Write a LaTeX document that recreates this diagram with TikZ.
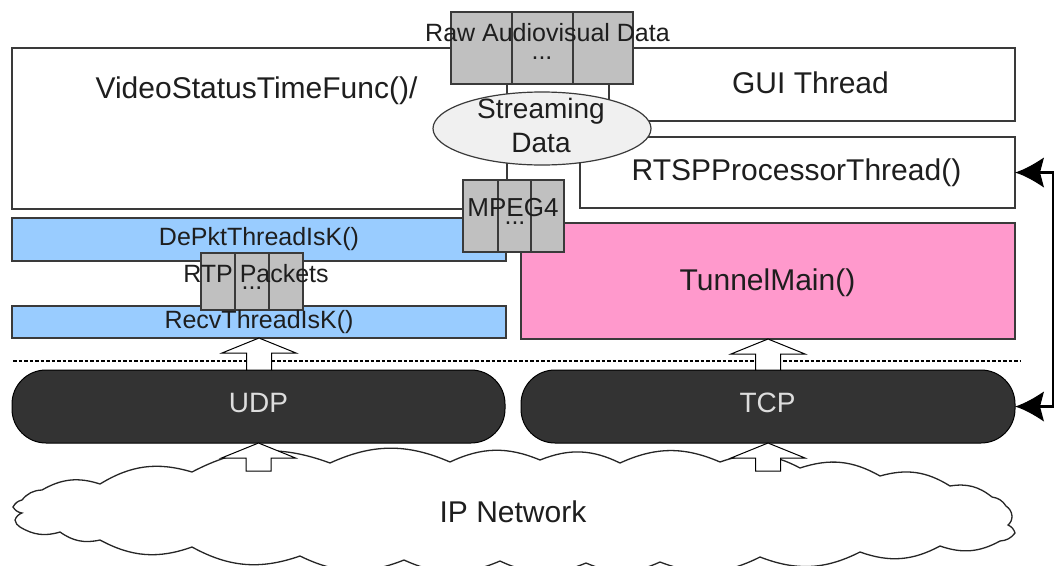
\documentclass[tikz,border=0pt]{standalone}
\usepackage{fontspec}
\setmainfont{Liberation Sans}
\usetikzlibrary{fit,shapes.geometric,arrows.meta}

\definecolor{cellgray}{HTML}{C0C0C0}
\definecolor{barblue}{HTML}{99CCFF}
\definecolor{tunpink}{HTML}{FF99CC}
\definecolor{pilldark}{HTML}{333333}
\definecolor{ellgray}{HTML}{F0F0F0}
\definecolor{ink}{HTML}{1E1E1E}
\definecolor{edge}{HTML}{3A3A3A}
\definecolor{pilltext}{HTML}{DDDDDD}

\begin{document}
\begin{tikzpicture}[x=1pt,y=-1pt,
  box/.style={draw=edge, line width=1.2pt, fill=white, inner sep=0pt, outer sep=0pt},
  bluebar/.style={box, fill=barblue},
  pinkbox/.style={box, fill=tunpink},
  cell/.style={box, fill=cellgray, line width=1.4pt},
  pill/.style={draw=black, line width=1pt, fill=pilldark, rounded corners=34pt, inner sep=0pt, outer sep=0pt},
  txt/.style={inner sep=0pt, text=ink, anchor=base},
  bigtxt/.style={txt, font=\fontsize{30}{36}\selectfont},
  midtxt/.style={txt, font=\fontsize{25}{30}\selectfont},
  dots/.style={txt, font=\fontsize{25}{30}\selectfont},
  hollow/.style={draw=black, line width=1pt, fill=white, line join=miter},
  biarrow/.style={line width=2.4pt, draw=black},
  dashline/.style={draw=black, line width=1.8pt, dash pattern=on 3.5pt off 2pt},
  cloudline/.style={draw=black!85, line width=1.3pt, fill=white},
  bl/.style={bend left=24},
  pics/hollowup/.style={code={
    \draw[hollow] (-12.5,#1) -- (-12.5,15) -- (-37,15) -- (0,0) -- (37,15) -- (12.5,15) -- (12.5,#1) -- cycle;}},
  % solid arrowhead pointing left, tip at the pic origin
  pics/headleft/.style={code={
    \fill[black] (0,0) .. controls (10,-3) and (20,-9) .. (29,-15) -- (25,0) -- (29,15)
      .. controls (20,9) and (10,3) .. (0,0) -- cycle;}}
]
\useasboundingbox (0,0) rectangle (1056,565);
\fill[white] (0,0) rectangle (1056,565);

% application-level thread boxes
\node[box, fit={(12,48) (507,209)}] (vstf) {};
\node[box, fit={(609,48) (1015,121)}] (gui) {};
\node[box, fit={(580,137) (1015,208)}] (rtsp) {};
\node[draw=edge, line width=1.2pt, fill=ellgray, ellipse, inner sep=0pt,
      minimum width=218pt, minimum height=73pt] (stream) at (542,128.5) {};

% raw audiovisual data buffer
\node[cell, fit={(451,12) (512,84)}] (raw1) {};
\node[cell, fit={(512,12) (573,84)}] (raw2) {};
\node[cell, fit={(573,12) (633,84)}] (raw3) {};

% lower threads
\node[bluebar, fit={(12,218) (506,261)}] (depkt) {};
\node[bluebar, fit={(12,306) (506,338)}] (recv) {};
\node[pinkbox, fit={(521,223) (1015,339)}] (tunnel) {};

% MPEG4 buffer
\node[cell, fit={(463,180) (498,252)}] (mp1) {};
\node[cell, fit={(498,180) (531,252)}] (mp2) {};
\node[cell, fit={(531,180) (564,252)}] (mp3) {};

% RTP packet buffer
\node[cell, fit={(201,253) (235,310)}] (rtp1) {};
\node[cell, fit={(235,253) (269,310)}] (rtp2) {};
\node[cell, fit={(269,253) (303,310)}] (rtp3) {};

% labels
\node[bigtxt] (lvstf) at (256.5,98) {VideoStatusTimeFunc()/};
\node[bigtxt] (lgui) at (810.5,93) {GUI Thread};
\node[bigtxt] (lrtsp) at (796.5,180) {RTSPProcessorThread()};
\node[midtxt] (lraw) at (547.5,41) {Raw Audiovisual Data};
\node[dots] (draw) at (542,59) {...};
\node[txt, font=\fontsize{28}{34}\selectfont] (lstr1) at (541,118) {Streaming};
\node[txt, font=\fontsize{28}{34}\selectfont] (lstr2) at (541,152) {Data};
\node[txt, font=\fontsize{26}{31}\selectfont] (lmp) at (513,216) {MPEG4};
\node[dots] (dmp) at (515,224.5) {...};
\node[midtxt] (ldep) at (259,245) {DePktThreadIsK()};
\node[midtxt] (lrtp) at (256,282) {RTP Packets};
\node[dots] (drtp) at (252,289.5) {...};
\node[midtxt] (lrecv) at (259,328) {RecvThreadIsK()};
\node[bigtxt] (ltun) at (767.5,290) {TunnelMain()};

% user / kernel boundary
\draw[dashline] (13,361) -- (1020,361);

% transport layer
\node[pill, fit={(12,370) (505,443)}] (udp) {};
\node[pill, fit={(521,370) (1015,443)}] (tcp) {};
\node[txt, text=pilltext, font=\fontsize{28}{34}\selectfont] (ludp) at (258.5,412) {UDP};
\node[txt, text=pilltext, font=\fontsize{28}{34}\selectfont] (ltcp) at (767.5,412) {TCP};

% network cloud
\draw[cloudline] (22,500) to[bl] (42,490) to[bl] (100,484) to[bl] (192,472)
  to[bl] (330,463) to[bl] (450,462) to[bl] (540,460) to[bl] (620,463) to[bl] (720,462)
  to[bl] (800,468) to[bl] (880,476) to[bl] (950,486) to[bl] (992,497)
  to[bl] (1006,506) to[bl] (1012,516) to[bl] (1008,525) to[bl] (1015,533) to[bl] (1000,541)
  to[bl] (940,546) to[bl] (860,552) to[bl] (760,557) to[bl] (660,562) to[bl] (586,563)
  to[bl] (500,561) to[bl] (404,560) to[bl] (300,556) to[bl] (192,547) to[bl] (100,540)
  to[bl] (60,532) to[bl] (20,527) to[bl] (15,520) to[bl] (22,513) to[bl] (13,507) to[bl] cycle;
\node[txt, font=\fontsize{30}{36}\selectfont] (lip) at (513,522) {IP Network};

% data flow arrows
\pic at (recv.south) {hollowup=32};
\pic at (tunnel.south) {hollowup=31};
\pic at (udp.south) {hollowup=28};
\pic at (tcp.south) {hollowup=28};

% control connection between RTSP thread and TCP
\coordinate (rail) at (1053,0);
\draw[biarrow] ([xshift=20pt]rtsp.east) -- (rtsp.east -| rail) -- (tcp.east -| rail) -- ([xshift=20pt]tcp.east);
\pic at (rtsp.east) {headleft};
\pic at (tcp.east) {headleft};
\end{tikzpicture}
\end{document}
